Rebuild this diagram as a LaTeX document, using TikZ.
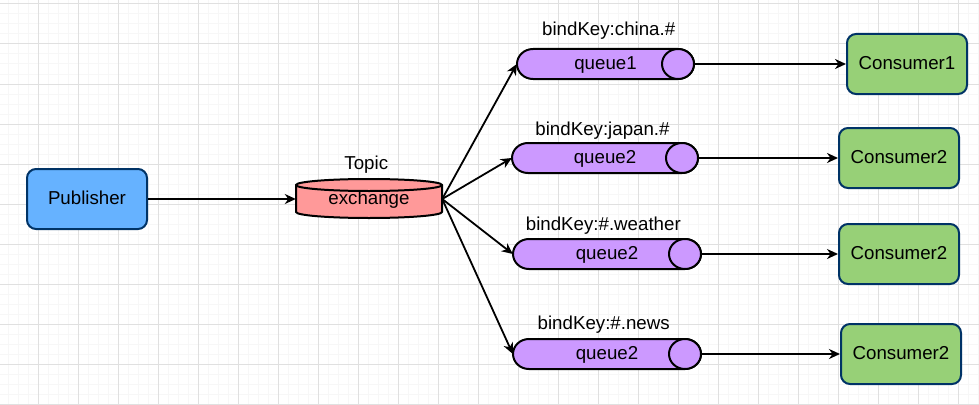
\documentclass[tikz,border=0pt]{standalone}
\usepackage{fontspec}
\setmainfont{Liberation Sans}
\usetikzlibrary{arrows.meta,calc}
\definecolor{pubfill}{HTML}{66B2FF}
\definecolor{navy}{HTML}{003366}
\definecolor{exfill}{HTML}{FF9999}
\definecolor{qfill}{HTML}{CC99FF}
\definecolor{cfill}{HTML}{97D077}
\definecolor{gmajor}{HTML}{E0E0E0}
\definecolor{gminor}{HTML}{F7F7F7}
\newcommand\drawqueue[4]{%
  \filldraw[qshape] ({#1+16},{-#3}) -- ({#2-16},{-#3})
    arc[start angle=90,end angle=-90,x radius=16pt,y radius=15pt]
    -- ({#1+16},{-#4})
    arc[start angle=270,end angle=90,x radius=16pt,y radius=15pt] -- cycle;
  \filldraw[qshape] ({#2-16},{-(#3+#4)/2}) ellipse[x radius=16pt,y radius=15pt];}
\begin{document}
\begin{tikzpicture}[x=1pt,y=1pt,
  every node/.style={font=\fontsize{18.7}{22}\selectfont, text height=13.4pt, text depth=2.8pt, inner sep=0pt},
  box/.style={draw=navy, line width=2pt, rounded corners=9pt, minimum width=120pt, minimum height=60pt},
  pubbox/.style={box, fill=pubfill},
  conbox/.style={box, fill=cfill},
  qnode/.style={minimum width=#1, minimum height=30pt},
  qshape/.style={draw=black, line width=2pt, fill=qfill, line join=round},
  exshape/.style={draw=black, line width=2pt, fill=exfill, line join=round},
  keylabel/.style={anchor=base},
  conn/.style={line width=1.8pt, -{Stealth[length=11pt,width=10pt,inset=3.5pt]}},
  gridminor/.style={gminor, line width=1pt},
  gridmajor/.style={gmajor, line width=1pt},
]
\useasboundingbox (0,0) rectangle (979,-404);
\fill[white] (0,0) rectangle (979,-404);
% grid
\foreach \x in {8,18,...,978} \draw[gridminor] (\x,0) -- (\x,-404);
\foreach \y in {4,14,...,404} \draw[gridminor] (0,-\y) -- (979,-\y);
\foreach \x in {38,78,...,958} \draw[gridmajor] (\x,0) -- (\x,-404);
\foreach \y in {4,44,...,404} \draw[gridmajor] (0,-\y) -- (979,-\y);

% publisher
\node[pubbox] (pub) at (87,-199) {Publisher};

% exchange cylinder
\filldraw[exshape] (296,-185) -- (296,-212)
  arc[start angle=180,end angle=360,x radius=73pt,y radius=6pt]
  -- (442,-185) -- cycle;
\filldraw[exshape] (369,-185) ellipse[x radius=73pt,y radius=6pt];
\node[minimum width=146pt, minimum height=39pt] (ex) at (369,-199) {exchange};
\node[keylabel] (topic) at (366.3,-169.3) {Topic};

% queues
\drawqueue{517}{694}{49}{79}
\node[qnode=177pt] (q1) at (605.5,-64) {queue1};
\drawqueue{512}{698}{143}{173}
\node[qnode=186pt] (q2) at (605,-158) {queue2};
\drawqueue{513}{701}{239}{269}
\node[qnode=188pt] (q3) at (607,-254) {queue2};
\drawqueue{513}{701}{339}{369}
\node[qnode=188pt] (q4) at (607,-354) {queue2};

% binding key labels
\node[keylabel] (k1) at (608.7,-35.7) {bindKey:china.\#};
\node[keylabel] (k2) at (602.5,-135) {bindKey:japan.\#};
\node[keylabel] (k3) at (603.3,-230) {bindKey:\#.weather};
\node[keylabel] (k4) at (603.7,-329.3) {bindKey:\#.news};

% consumers
\node[conbox] (c1) at (907,-64) {Consumer1};
\node[conbox] (c2) at (899,-158) {Consumer2};
\node[conbox] (c3) at (899,-254) {Consumer2};
\node[conbox] (c4) at (901,-354) {Consumer2};

% connectors
\draw[conn] (pub.east) -- (ex.west);
\draw[conn] (ex.east) -- (q1.west);
\draw[conn] (ex.east) -- (q2.west);
\draw[conn] (ex.east) -- (q3.west);
\draw[conn] (ex.east) -- (q4.west);
\draw[conn] (q1.east) -- (c1.west);
\draw[conn] (q2.east) -- (c2.west);
\draw[conn] (q3.east) -- (c3.west);
\draw[conn] (q4.east) -- (c4.west);
\end{tikzpicture}
\end{document}
